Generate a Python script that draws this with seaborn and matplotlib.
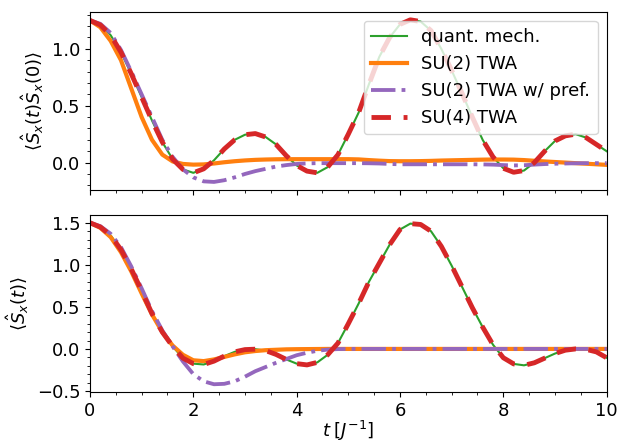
import numpy as np
import pandas as pd
import matplotlib
matplotlib.use("Agg")
import matplotlib.pyplot as plt
import seaborn as sns

# ---------------- data ----------------
t = np.round(np.arange(0, 10.01, 0.2), 1)

labels = ["quant. mech.", "SU(2) TWA", "SU(2) TWA w/ pref.", "SU(4) TWA"]

# top panel: <S_x(t) S_x(0)>
top_qm = [1.25, 1.21, 1.12, 0.97, 0.78, 0.575, 0.37, 0.18, 0.03, -0.06,
          -0.09, -0.055, 0.02, 0.12, 0.20, 0.245, 0.255, 0.225, 0.16, 0.06,
          -0.025, -0.075, -0.09, -0.04, 0.07, 0.25, 0.44, 0.69, 0.93, 1.10,
          1.215, 1.255, 1.24, 1.16, 1.00, 0.81, 0.61, 0.40, 0.20, 0.05,
          -0.05, -0.085, -0.07, 0.0, 0.10, 0.19, 0.235, 0.25, 0.22, 0.16,
          0.10]
top_su2 = [1.25, 1.19, 1.07, 0.90, 0.65, 0.40, 0.20, 0.07, 0.01, -0.012,
           -0.018, -0.016, -0.008, 0.003, 0.012, 0.019, 0.024, 0.027, 0.029, 0.03,
           0.03, 0.03, 0.03, 0.03, 0.03, 0.03, 0.028, 0.022, 0.017, 0.013,
           0.012, 0.012, 0.013, 0.015, 0.018, 0.02, 0.022, 0.024, 0.026, 0.027,
           0.027, 0.026, 0.022, 0.016, 0.01, 0.005, 0.0, -0.005, -0.01, -0.015,
           -0.02]
top_su2p = [1.25, 1.22, 1.14, 0.99, 0.80, 0.60, 0.40, 0.20, 0.05, -0.06,
            -0.13, -0.165, -0.17, -0.155, -0.13, -0.10, -0.075, -0.055, -0.035, -0.022,
            -0.012, -0.007, -0.005, -0.005, -0.005, -0.005, -0.005, -0.006, -0.008, -0.012,
            -0.015, -0.015, -0.015, -0.015, -0.015, -0.015, -0.015, -0.015, -0.016, -0.018,
            -0.022, -0.025, -0.023, -0.018, -0.013, -0.01, -0.008, -0.006, -0.005, -0.005,
            -0.005]
top_su4 = [1.25, 1.21, 1.12, 0.97, 0.78, 0.575, 0.37, 0.18, 0.03, -0.06,
           -0.09, -0.055, 0.02, 0.12, 0.20, 0.245, 0.255, 0.225, 0.16, 0.06,
           -0.025, -0.075, -0.09, -0.04, 0.07, 0.25, 0.44, 0.69, 0.93, 1.10,
           1.215, 1.255, 1.24, 1.16, 1.00, 0.81, 0.61, 0.40, 0.20, 0.05,
           -0.05, -0.085, -0.07, 0.0, 0.10, 0.19, 0.235, 0.25, 0.22, 0.16,
           0.10]

# bottom panel: <S_x(t)>
bot_qm = [1.50, 1.45, 1.35, 1.18, 0.95, 0.69, 0.42, 0.20, 0.03, -0.11,
          -0.175, -0.185, -0.145, -0.085, -0.035, -0.008, -0.003, -0.02, -0.065, -0.125,
          -0.175, -0.19, -0.16, -0.07, 0.07, 0.30, 0.54, 0.80, 1.02, 1.24,
          1.42, 1.49, 1.48, 1.40, 1.22, 0.99, 0.74, 0.49, 0.26, 0.05,
          -0.105, -0.178, -0.195, -0.165, -0.11, -0.055, -0.015, 0.0, -0.005, -0.035,
          -0.105]
bot_su2 = [1.50, 1.44, 1.33, 1.15, 0.92, 0.66, 0.41, 0.20, 0.04, -0.07,
           -0.135, -0.145, -0.125, -0.095, -0.065, -0.04, -0.025, -0.015, -0.01, -0.005,
           -0.003, -0.002, -0.001, 0.0, 0.0, 0.0, 0.0, 0.0, 0.0, 0.0,
           0.0, 0.0, 0.0, 0.0, 0.0, 0.0, 0.0, 0.0, 0.0, 0.0,
           0.0, 0.0, 0.0, 0.0, 0.0, 0.0, 0.0, 0.0, 0.0, 0.0,
           0.0]
bot_su2p = [1.50, 1.46, 1.37, 1.21, 0.98, 0.72, 0.45, 0.22, 0.03, -0.15,
            -0.30, -0.385, -0.42, -0.415, -0.385, -0.33, -0.265, -0.215, -0.165, -0.12,
            -0.075, -0.045, -0.022, -0.008, -0.002, 0.0, 0.0, 0.0, 0.0, 0.0,
            0.0, 0.0, 0.0, 0.0, 0.0, 0.0, 0.0, 0.0, 0.0, 0.0,
            0.0, 0.0, 0.0, 0.0, 0.0, 0.0, 0.0, 0.0, 0.0, 0.0,
            0.0]
bot_su4 = [1.50, 1.45, 1.35, 1.18, 0.95, 0.69, 0.42, 0.20, 0.03, -0.11,
           -0.175, -0.185, -0.145, -0.085, -0.035, -0.008, -0.003, -0.02, -0.065, -0.125,
           -0.175, -0.19, -0.16, -0.07, 0.07, 0.30, 0.54, 0.80, 1.02, 1.24,
           1.42, 1.49, 1.48, 1.40, 1.22, 0.99, 0.74, 0.49, 0.26, 0.05,
           -0.105, -0.178, -0.195, -0.165, -0.11, -0.055, -0.015, 0.0, -0.005, -0.035,
           -0.105]

# ---------------- styling ----------------
colors = ["#2ca02c", "#ff7f0e", "#9467bd", "#d62728"]
widths = [1.5, 3.0, 2.75, 3.5]
styles = ["-", "-", "-.", (0, (4.0, 2.6))]

fig = plt.figure(figsize=(6.21, 4.44), dpi=100)
ax1 = fig.add_axes([0.1449, 0.572, 0.832, 0.4016])
ax2 = fig.add_axes([0.1449, 0.1164, 0.832, 0.400])

top_series = [top_qm, top_su2, top_su2p, top_su4]
bot_series = [bot_qm, bot_su2, bot_su2p, bot_su4]

for vals, lab, c, lw, ls in zip(top_series, labels, colors, widths, styles):
    sns.lineplot(x=t, y=vals, ax=ax1, color=c, linewidth=lw, linestyle=ls,
                 label=lab, legend=False)
for vals, c, lw, ls in zip(bot_series, colors, widths, styles):
    sns.lineplot(x=t, y=vals, ax=ax2, color=c, linewidth=lw, linestyle=ls,
                 legend=False)

fs = 13
for ax in (ax1, ax2):
    ax.set_xlim(0, 10)
    ax.minorticks_on()
    ax.tick_params(labelsize=fs)
    ax.set_xticks([0, 2, 4, 6, 8, 10])

ax1.set_yticks([0.0, 0.5, 1.0])
ax2.set_yticks([-0.5, 0.0, 0.5, 1.0, 1.5])
ax1.tick_params(labelbottom=False)

ax1.set_xlabel("")
ax1.set_ylabel(r"$\langle \hat{S}_x(t)\hat{S}_x(0)\rangle$", fontsize=fs)
ax2.set_ylabel(r"$\langle \hat{S}_x(t)\rangle$", fontsize=fs)
ax2.set_xlabel(r"$t\;[J^{-1}]$", fontsize=fs, labelpad=-1)

leg = ax1.legend(loc="upper right", fontsize=fs)
if ax2.get_legend() is not None:
    ax2.get_legend().remove()

fig.savefig("out.png", dpi=100)
